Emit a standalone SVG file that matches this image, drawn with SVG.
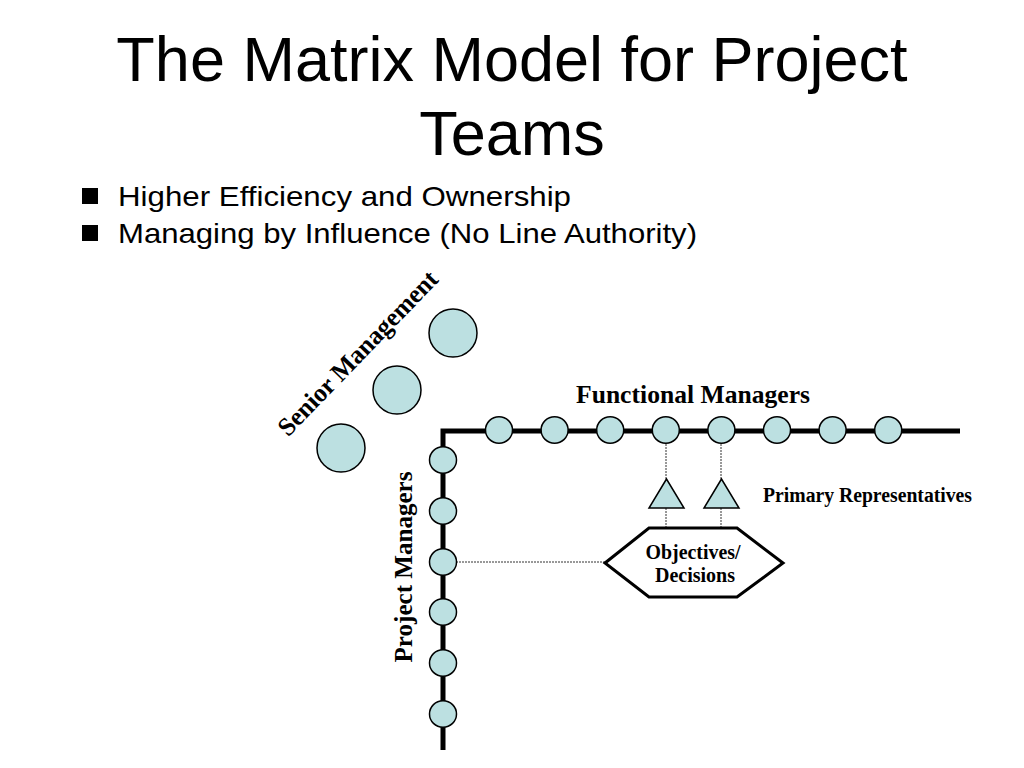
<svg xmlns="http://www.w3.org/2000/svg" width="1024" height="768" viewBox="0 0 1024 768">
<defs>
<style>
.title{font-family:"Liberation Sans",Arial,sans-serif;font-size:63px;fill:#000}
.bul{font-family:"Liberation Sans",Arial,sans-serif;font-size:28px;fill:#000}
.lbl{font-family:"Liberation Serif","Times New Roman",serif;font-weight:bold;fill:#000}
.node{fill:#BCE0E1;stroke:#000;stroke-width:1.5}
.dot{stroke:#333;stroke-width:1;stroke-dasharray:2 1;fill:none}
</style>
</defs>
<rect width="1024" height="768" fill="#fff"/>
<g id="title">
<text class="title" x="512" y="81" text-anchor="middle">The Matrix Model for Project</text>
<text class="title" x="512" y="155" text-anchor="middle">Teams</text>
</g>
<g id="bullets">
<rect x="82" y="188" width="16" height="16" fill="#000"/>
<text class="bul" x="118" y="206" textLength="453" lengthAdjust="spacingAndGlyphs">Higher Efficiency and Ownership</text>
<rect x="82" y="225" width="16" height="16" fill="#000"/>
<text class="bul" x="118" y="243" textLength="579" lengthAdjust="spacingAndGlyphs">Managing by Influence (No Line Authority)</text>
</g>
<g id="connectors">
<path d="M443,750 L443,431 L960,431" fill="none" stroke="#000" stroke-width="5" stroke-linejoin="miter"/>
<line class="dot" x1="666" y1="444" x2="666" y2="479"/>
<line class="dot" x1="666" y1="508" x2="666" y2="528"/>
<line class="dot" x1="721" y1="444" x2="721" y2="479"/>
<line class="dot" x1="721" y1="508" x2="721" y2="528"/>
<line class="dot" x1="456" y1="562" x2="605" y2="562"/>
</g>
<g id="senior-management">
<circle class="node" cx="453" cy="333" r="24"/>
<circle class="node" cx="397" cy="390" r="24"/>
<circle class="node" cx="341" cy="448" r="24"/>
<text class="lbl" font-size="26" transform="translate(364,359) rotate(-46)" text-anchor="middle" textLength="218" lengthAdjust="spacingAndGlyphs">Senior Management</text>
</g>
<g id="functional-managers">
<text class="lbl" font-size="26" x="576" y="403" textLength="234" lengthAdjust="spacingAndGlyphs">Functional Managers</text>
<ellipse class="node" cx="499" cy="430" rx="13.5" ry="13.3"/>
<ellipse class="node" cx="554.6" cy="430" rx="13.5" ry="13.3"/>
<ellipse class="node" cx="610.2" cy="430" rx="13.5" ry="13.3"/>
<ellipse class="node" cx="665.8" cy="430" rx="13.5" ry="13.3"/>
<ellipse class="node" cx="721.4" cy="430" rx="13.5" ry="13.3"/>
<ellipse class="node" cx="777" cy="430" rx="13.5" ry="13.3"/>
<ellipse class="node" cx="832.6" cy="430" rx="13.5" ry="13.3"/>
<ellipse class="node" cx="888.2" cy="430" rx="13.5" ry="13.3"/>
</g>
<g id="project-managers">
<text class="lbl" font-size="26" transform="translate(412,567) rotate(-90)" text-anchor="middle" textLength="191" lengthAdjust="spacingAndGlyphs">Project Managers</text>
<ellipse class="node" cx="443" cy="460" rx="13.5" ry="13.3"/>
<ellipse class="node" cx="443" cy="511" rx="13.5" ry="13.3"/>
<ellipse class="node" cx="443" cy="562" rx="13.5" ry="13.3"/>
<ellipse class="node" cx="443" cy="612" rx="13.5" ry="13.3"/>
<ellipse class="node" cx="443" cy="663" rx="13.5" ry="13.3"/>
<ellipse class="node" cx="443" cy="714" rx="13.5" ry="13.3"/>
</g>
<g id="primary-representatives">
<polygon class="node" points="666.5,479 649,508 684,508"/>
<polygon class="node" points="721.5,479 704,508 739,508"/>
<text class="lbl" font-size="20" x="763" y="502" textLength="209" lengthAdjust="spacingAndGlyphs">Primary Representatives</text>
</g>
<g id="objectives-decisions">
<polygon points="605,563 649,528 737,528 783,563 737,597 649,597" fill="#fff" stroke="#000" stroke-width="3" stroke-linejoin="miter"/>
<text class="lbl" font-size="20" x="693" y="559" text-anchor="middle" textLength="95" lengthAdjust="spacingAndGlyphs">Objectives/</text>
<text class="lbl" font-size="20" x="695" y="582" text-anchor="middle" textLength="80" lengthAdjust="spacingAndGlyphs">Decisions</text>
</g>
</svg>
